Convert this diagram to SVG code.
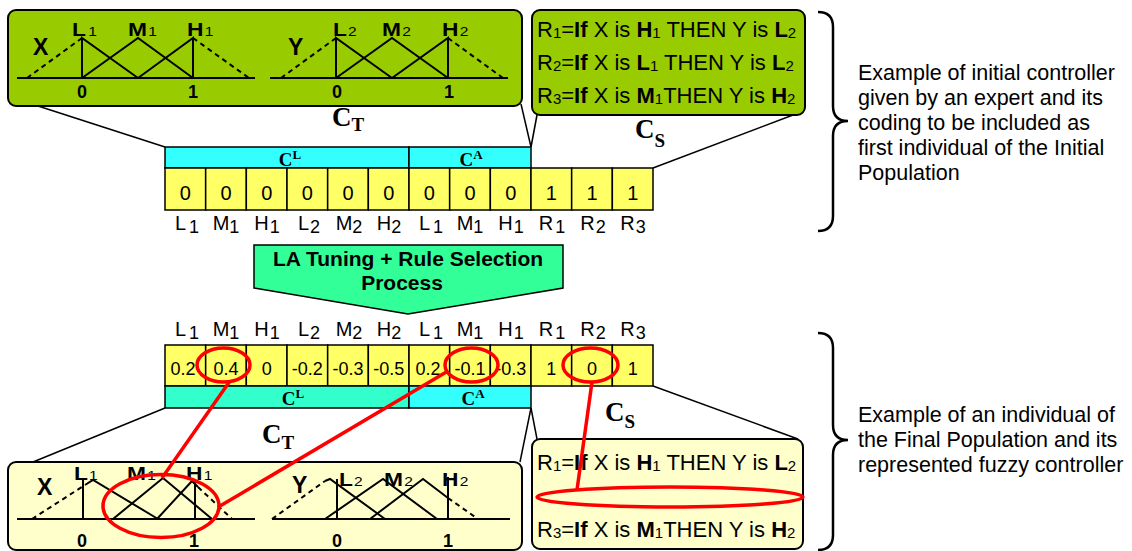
<svg xmlns="http://www.w3.org/2000/svg" width="1132" height="551" viewBox="0 0 1132 551">
<style>
text{font-family:"Liberation Sans",Arial,sans-serif;fill:#000}
.mf{stroke:#000;stroke-width:2;fill:none}
.dash{stroke-dasharray:5 4}
.box{stroke:#000;stroke-width:2}
.green{fill:#99cc00}
.pale{fill:#ffffcc}
.cell{fill:#ffff66;stroke:#000;stroke-width:1.5}
.cyan{fill:#33ffff;stroke:#000;stroke-width:1.5}
.teal{fill:#33ffcc;stroke:#000;stroke-width:1.5}
.con{stroke:#000;stroke-width:1.5;fill:none}
.red{stroke:#ff0000;stroke-width:3.5;fill:none}
.mfl{font-size:19px;font-weight:bold}
.mfs{font-size:13px;font-weight:normal}
.xy{font-size:23px;font-weight:bold}
.num{font-size:18px;font-weight:bold;text-anchor:middle}
.rule{font-size:22px}
.rs{font-size:15px}
.b{font-weight:bold}
.big{font-family:"Liberation Serif","Times New Roman",serif;font-weight:bold;font-size:27px}
.bigs{font-size:19px}
.cl{font-family:"Liberation Serif","Times New Roman",serif;font-weight:bold;font-size:19px;text-anchor:middle}
.cls{font-size:13px}
.val{font-size:20px;text-anchor:middle}
.vals{font-size:18px;text-anchor:middle}
.gl{font-size:20px;text-anchor:middle}
.gls{font-size:18px;text-anchor:middle}
.note{font-size:21.5px}
.brace{stroke:#000;stroke-width:2.5;fill:none}
.arrowtxt{font-size:21px;font-weight:bold;text-anchor:middle}
</style>

<g id="connectors">
<line class="con" x1="38" y1="106" x2="165" y2="147"/>
<line class="con" x1="521" y1="104" x2="531" y2="147"/>
<line class="con" x1="537" y1="115" x2="531" y2="147"/>
<line class="con" x1="793" y1="115" x2="653" y2="168"/>
<line class="con" x1="33" y1="462" x2="165" y2="408"/>
<line class="con" x1="520" y1="462" x2="531" y2="408"/>
<line class="con" x1="537" y1="439" x2="531" y2="408"/>
<line class="con" x1="798" y1="439" x2="653" y2="386"/>
</g>

<g id="ct-top">
<rect class="box green" x="8" y="10" width="514" height="96" rx="8"/>
<line class="mf" x1="17" y1="78" x2="255" y2="78"/>
<line class="mf dash" x1="27" y1="78" x2="82" y2="38"/>
<polyline class="mf" points="82,78 82,38 138,78"/>
<polyline class="mf" points="82,78 138,38 193,78"/>
<polyline class="mf" points="138,78 193,38 193,78"/>
<line class="mf dash" x1="193" y1="38" x2="249" y2="78"/>
<text class="xy" x="33" y="55">X</text>
<text class="mfl" transform="translate(72,36) scale(1.2,1)">L<tspan class="mfs" dx="2">1</tspan></text>
<text class="mfl" transform="translate(128,36) scale(1.2,1)">M<tspan class="mfs" dx="1">1</tspan></text>
<text class="mfl" transform="translate(187,36) scale(1.2,1)">H<tspan class="mfs" dx="1">1</tspan></text>
<text class="num" x="82" y="98">0</text>
<text class="num" x="193" y="98">1</text>
<line class="mf" x1="270" y1="78" x2="508" y2="78"/>
<line class="mf dash" x1="281" y1="78" x2="336" y2="38"/>
<polyline class="mf" points="336,78 336,38 392,78"/>
<polyline class="mf" points="336,78 392,38 448,78"/>
<polyline class="mf" points="392,78 448,38 448,78"/>
<line class="mf dash" x1="448" y1="38" x2="503" y2="78"/>
<text class="xy" x="288" y="55">Y</text>
<text class="mfl" transform="translate(333,36) scale(1.2,1)">L<tspan class="mfs" dx="1">2</tspan></text>
<text class="mfl" transform="translate(382,36) scale(1.2,1)">M<tspan class="mfs" dx="1">2</tspan></text>
<text class="mfl" transform="translate(442,36) scale(1.2,1)">H<tspan class="mfs" dx="1">2</tspan></text>
<text class="num" x="337" y="98">0</text>
<text class="num" x="449" y="98">1</text>
<text class="big" x="332" y="126">C<tspan class="bigs" dy="5">T</tspan></text>
</g>

<g id="cs-top">
<rect class="box green" x="532" y="10" width="273" height="105" rx="8"/>
<text class="rule" x="537" y="37">R<tspan class="rs" dy="1">1</tspan><tspan dy="-1">=</tspan><tspan class="b">If</tspan> X is <tspan class="b">H</tspan><tspan class="rs" dy="1">1</tspan><tspan dy="-1"> THEN Y is </tspan><tspan class="b">L</tspan><tspan class="rs" dy="1">2</tspan></text>
<text class="rule" x="537" y="70">R<tspan class="rs" dy="1">2</tspan><tspan dy="-1">=</tspan><tspan class="b">If</tspan> X is <tspan class="b">L</tspan><tspan class="rs" dy="1">1</tspan><tspan dy="-1"> THEN Y is </tspan><tspan class="b">L</tspan><tspan class="rs" dy="1">2</tspan></text>
<text class="rule" x="537" y="103">R<tspan class="rs" dy="1">3</tspan><tspan dy="-1">=</tspan><tspan class="b">If</tspan> X is <tspan class="b">M</tspan><tspan class="rs" dy="1">1</tspan><tspan dy="-1">THEN Y is </tspan><tspan class="b">H</tspan><tspan class="rs" dy="1">2</tspan></text>
<text class="big" x="635" y="138">C<tspan class="bigs" dy="9">S</tspan></text>
</g>

<g id="chrom-top">
<rect class="cyan" x="165" y="147" width="244" height="21"/>
<rect class="cyan" x="409" y="147" width="122" height="21"/>
<text class="cl" x="290" y="166">C<tspan class="cls" dy="-7">L</tspan></text>
<text class="cl" x="471" y="166">C<tspan class="cls" dy="-7">A</tspan></text>
<rect class="cell" x="165" y="168" width="40.67" height="42"/>
<rect class="cell" x="205.67" y="168" width="40.67" height="42"/>
<rect class="cell" x="246.33" y="168" width="40.67" height="42"/>
<rect class="cell" x="287" y="168" width="40.67" height="42"/>
<rect class="cell" x="327.67" y="168" width="40.67" height="42"/>
<rect class="cell" x="368.33" y="168" width="40.67" height="42"/>
<rect class="cell" x="409" y="168" width="40.67" height="42"/>
<rect class="cell" x="449.67" y="168" width="40.67" height="42"/>
<rect class="cell" x="490.33" y="168" width="40.67" height="42"/>
<rect class="cell" x="531" y="168" width="40.67" height="42"/>
<rect class="cell" x="571.67" y="168" width="40.67" height="42"/>
<rect class="cell" x="612.33" y="168" width="40.67" height="42"/>
<text class="val" y="200"><tspan x="185.3">0</tspan><tspan x="226">0</tspan><tspan x="266.7">0</tspan><tspan x="307.3">0</tspan><tspan x="348">0</tspan><tspan x="388.7">0</tspan><tspan x="429.3">0</tspan><tspan x="470">0</tspan><tspan x="510.7">0</tspan><tspan x="551.3">1</tspan><tspan x="592">1</tspan><tspan x="632.7">1</tspan></text>
<text class="gl" x="187" y="230">L<tspan class="gls" dx="3" dy="3">1</tspan></text>
<text class="gl" x="226" y="230">M<tspan class="gls" dy="3">1</tspan></text>
<text class="gl" x="267" y="230">H<tspan class="gls" dx="1" dy="3">1</tspan></text>
<text class="gl" x="309" y="230">L<tspan class="gls" dx="1" dy="3">2</tspan></text>
<text class="gl" x="349" y="230">M<tspan class="gls" dy="3">2</tspan></text>
<text class="gl" x="389" y="230">H<tspan class="gls" dy="3">2</tspan></text>
<text class="gl" x="431" y="230">L<tspan class="gls" dx="3" dy="3">1</tspan></text>
<text class="gl" x="470" y="230">M<tspan class="gls" dy="3">1</tspan></text>
<text class="gl" x="511" y="230">H<tspan class="gls" dx="1" dy="3">1</tspan></text>
<text class="gl" x="552" y="230">R<tspan class="gls" dx="2" dy="3">1</tspan></text>
<text class="gl" x="593" y="230">R<tspan class="gls" dx="1" dy="3">2</tspan></text>
<text class="gl" x="633" y="230">R<tspan class="gls" dx="1" dy="3">3</tspan></text>
</g>

<g id="arrow">
<polygon points="254,245 563,245 563,288 408,314 254,288" fill="#33ff99" stroke="#000" stroke-width="1.5"/>
<text class="arrowtxt" x="408" y="266">LA Tuning + Rule Selection</text>
<text class="arrowtxt" x="402" y="290">Process</text>
</g>

<g id="chrom-bottom">
<text class="gl" font-size="18" y="336" x="187">L<tspan class="gls" font-size="16" dx="3" dy="3">1</tspan></text>
<text class="gl" font-size="18" y="336" x="226">M<tspan class="gls" font-size="16" dy="3">1</tspan></text>
<text class="gl" font-size="18" y="336" x="267">H<tspan class="gls" font-size="16" dx="1" dy="3">1</tspan></text>
<text class="gl" font-size="18" y="336" x="309">L<tspan class="gls" font-size="16" dx="1" dy="3">2</tspan></text>
<text class="gl" font-size="18" y="336" x="349">M<tspan class="gls" font-size="16" dy="3">2</tspan></text>
<text class="gl" font-size="18" y="336" x="389">H<tspan class="gls" font-size="16" dy="3">2</tspan></text>
<text class="gl" font-size="18" y="336" x="431">L<tspan class="gls" font-size="16" dx="3" dy="3">1</tspan></text>
<text class="gl" font-size="18" y="336" x="470">M<tspan class="gls" font-size="16" dy="3">1</tspan></text>
<text class="gl" font-size="18" y="336" x="511">H<tspan class="gls" font-size="16" dx="1" dy="3">1</tspan></text>
<text class="gl" font-size="18" y="336" x="552">R<tspan class="gls" font-size="16" dx="2" dy="3">1</tspan></text>
<text class="gl" font-size="18" y="336" x="593">R<tspan class="gls" font-size="16" dx="1" dy="3">2</tspan></text>
<text class="gl" font-size="18" y="336" x="633">R<tspan class="gls" font-size="16" dx="1" dy="3">3</tspan></text>
<rect class="cell" x="165" y="345" width="40.67" height="41"/>
<rect class="cell" x="205.67" y="345" width="40.67" height="41"/>
<rect class="cell" x="246.33" y="345" width="40.67" height="41"/>
<rect class="cell" x="287" y="345" width="40.67" height="41"/>
<rect class="cell" x="327.67" y="345" width="40.67" height="41"/>
<rect class="cell" x="368.33" y="345" width="40.67" height="41"/>
<rect class="cell" x="409" y="345" width="40.67" height="41"/>
<rect class="cell" x="449.67" y="345" width="40.67" height="41"/>
<rect class="cell" x="490.33" y="345" width="40.67" height="41"/>
<rect class="cell" x="531" y="345" width="40.67" height="41"/>
<rect class="cell" x="571.67" y="345" width="40.67" height="41"/>
<rect class="cell" x="612.33" y="345" width="40.67" height="41"/>
<text class="vals" y="375"><tspan x="183">0.2</tspan><tspan x="226">0.4</tspan><tspan x="266.7">0</tspan><tspan x="307.3">-0.2</tspan><tspan x="348">-0.3</tspan><tspan x="388.7">-0.5</tspan><tspan x="428">0.2</tspan><tspan x="470">-0.1</tspan><tspan x="510.7">-0.3</tspan><tspan x="551.3">1</tspan><tspan x="592">0</tspan><tspan x="632.7">1</tspan></text>
<rect class="teal" x="165" y="386" width="244" height="22"/>
<rect class="cyan" x="409" y="386" width="122" height="22"/>
<text class="cl" x="293" y="405">C<tspan class="cls" dy="-7">L</tspan></text>
<text class="cl" x="473" y="405">C<tspan class="cls" dy="-7">A</tspan></text>
</g>

<g id="ct-bottom">
<text class="big" x="262" y="443">C<tspan class="bigs" dy="6">T</tspan></text>
<rect class="box pale" x="8" y="462" width="514" height="88" rx="8"/>
<line class="mf" x1="17" y1="519" x2="255" y2="519"/>
<line class="mf dash" x1="32" y1="519" x2="85" y2="485"/>
<polyline class="mf" points="85,485 93,480 158,519"/>
<line class="mf" x1="83" y1="480" x2="83" y2="519"/>
<polyline class="mf" points="113,519 163,478 212,519"/>
<polyline class="mf" points="157,519 192,481 198,487"/>
<line class="mf dash" x1="198" y1="487" x2="232" y2="519"/>
<line class="mf" x1="195" y1="479" x2="195" y2="519"/>
<text class="xy" x="37" y="495">X</text>
<text class="mfl" transform="translate(74,480) scale(1.2,1)">L<tspan class="mfs" dx="1">1</tspan></text>
<text class="mfl" transform="translate(127,480) scale(1.2,1)">M<tspan class="mfs" dx="1">1</tspan></text>
<text class="mfl" transform="translate(186,480) scale(1.2,1)">H<tspan class="mfs" dx="1">1</tspan></text>
<text class="num" x="82" y="547">0</text>
<text class="num" x="194" y="547">1</text>
<line class="mf" x1="272" y1="519" x2="510" y2="519"/>
<line class="mf dash" x1="272" y1="519" x2="325" y2="481"/>
<polyline class="mf" points="325,481 330,479 385,519"/>
<line class="mf" x1="337" y1="479" x2="337" y2="519"/>
<polyline class="mf" points="325,519 383,479 437,519"/>
<polyline class="mf" points="370,519 423,479 448,498"/>
<line class="mf dash" x1="448" y1="498" x2="478" y2="519"/>
<line class="mf" x1="448" y1="477" x2="448" y2="519"/>
<text class="xy" x="292" y="493">Y</text>
<text class="mfl" transform="translate(339,486) scale(1.2,1)">L<tspan class="mfs" dx="1">2</tspan></text>
<text class="mfl" transform="translate(384,486) scale(1.2,1)">M<tspan class="mfs" dx="1">2</tspan></text>
<text class="mfl" transform="translate(442,486) scale(1.2,1)">H<tspan class="mfs" dx="1">2</tspan></text>
<text class="num" x="337" y="547">0</text>
<text class="num" x="448" y="547">1</text>
</g>

<g id="cs-bottom">
<text class="big" x="605" y="421">C<tspan class="bigs" dy="7">S</tspan></text>
<rect class="box pale" x="532" y="439" width="271" height="110" rx="8"/>
<text class="rule" x="537" y="470">R<tspan class="rs" dy="1">1</tspan><tspan dy="-1">=</tspan><tspan class="b">If</tspan> X is <tspan class="b">H</tspan><tspan class="rs" dy="1">1</tspan><tspan dy="-1"> THEN Y is </tspan><tspan class="b">L</tspan><tspan class="rs" dy="1">2</tspan></text>
<text class="rule" x="537" y="537">R<tspan class="rs" dy="1">3</tspan><tspan dy="-1">=</tspan><tspan class="b">If</tspan> X is <tspan class="b">M</tspan><tspan class="rs" dy="1">1</tspan><tspan dy="-1">THEN Y is </tspan><tspan class="b">H</tspan><tspan class="rs" dy="1">2</tspan></text>
</g>

<g id="highlights">
<ellipse class="red" cx="223.5" cy="365" rx="26.5" ry="17"/>
<ellipse class="red" cx="471.5" cy="365" rx="26.5" ry="17"/>
<ellipse class="red" cx="590.5" cy="365" rx="27.5" ry="17"/>
<line class="red" x1="230" y1="381" x2="162" y2="478"/>
<line class="red" x1="448" y1="371" x2="220" y2="506"/>
<line class="red" x1="592" y1="382" x2="577" y2="490"/>
<ellipse class="red" cx="161" cy="506" rx="58" ry="31.5"/>
<ellipse class="red" cx="670" cy="497" rx="133" ry="10"/>
</g>

<g id="note-top">
<path class="brace" d="M818,12 Q833,12 833,27 L833,106 Q833,121 848,121 Q833,121 833,136 L833,216 Q833,231 818,231"/>
<text class="note" x="858" y="80">Example of initial controller</text>
<text class="note" x="858" y="105">given by an expert and its</text>
<text class="note" x="858" y="130">coding to be included as</text>
<text class="note" x="858" y="155">first individual of the Initial</text>
<text class="note" x="858" y="180">Population</text>
</g>

<g id="note-bottom">
<path class="brace" d="M818,333 Q833,333 833,348 L833,425 Q833,440 848,440 Q833,440 833,455 L833,535 Q833,550 818,550"/>
<text class="note" x="858" y="422">Example of an individual of</text>
<text class="note" x="858" y="447">the Final Population and its</text>
<text class="note" x="858" y="472">represented fuzzy controller</text>
</g>
</svg>
